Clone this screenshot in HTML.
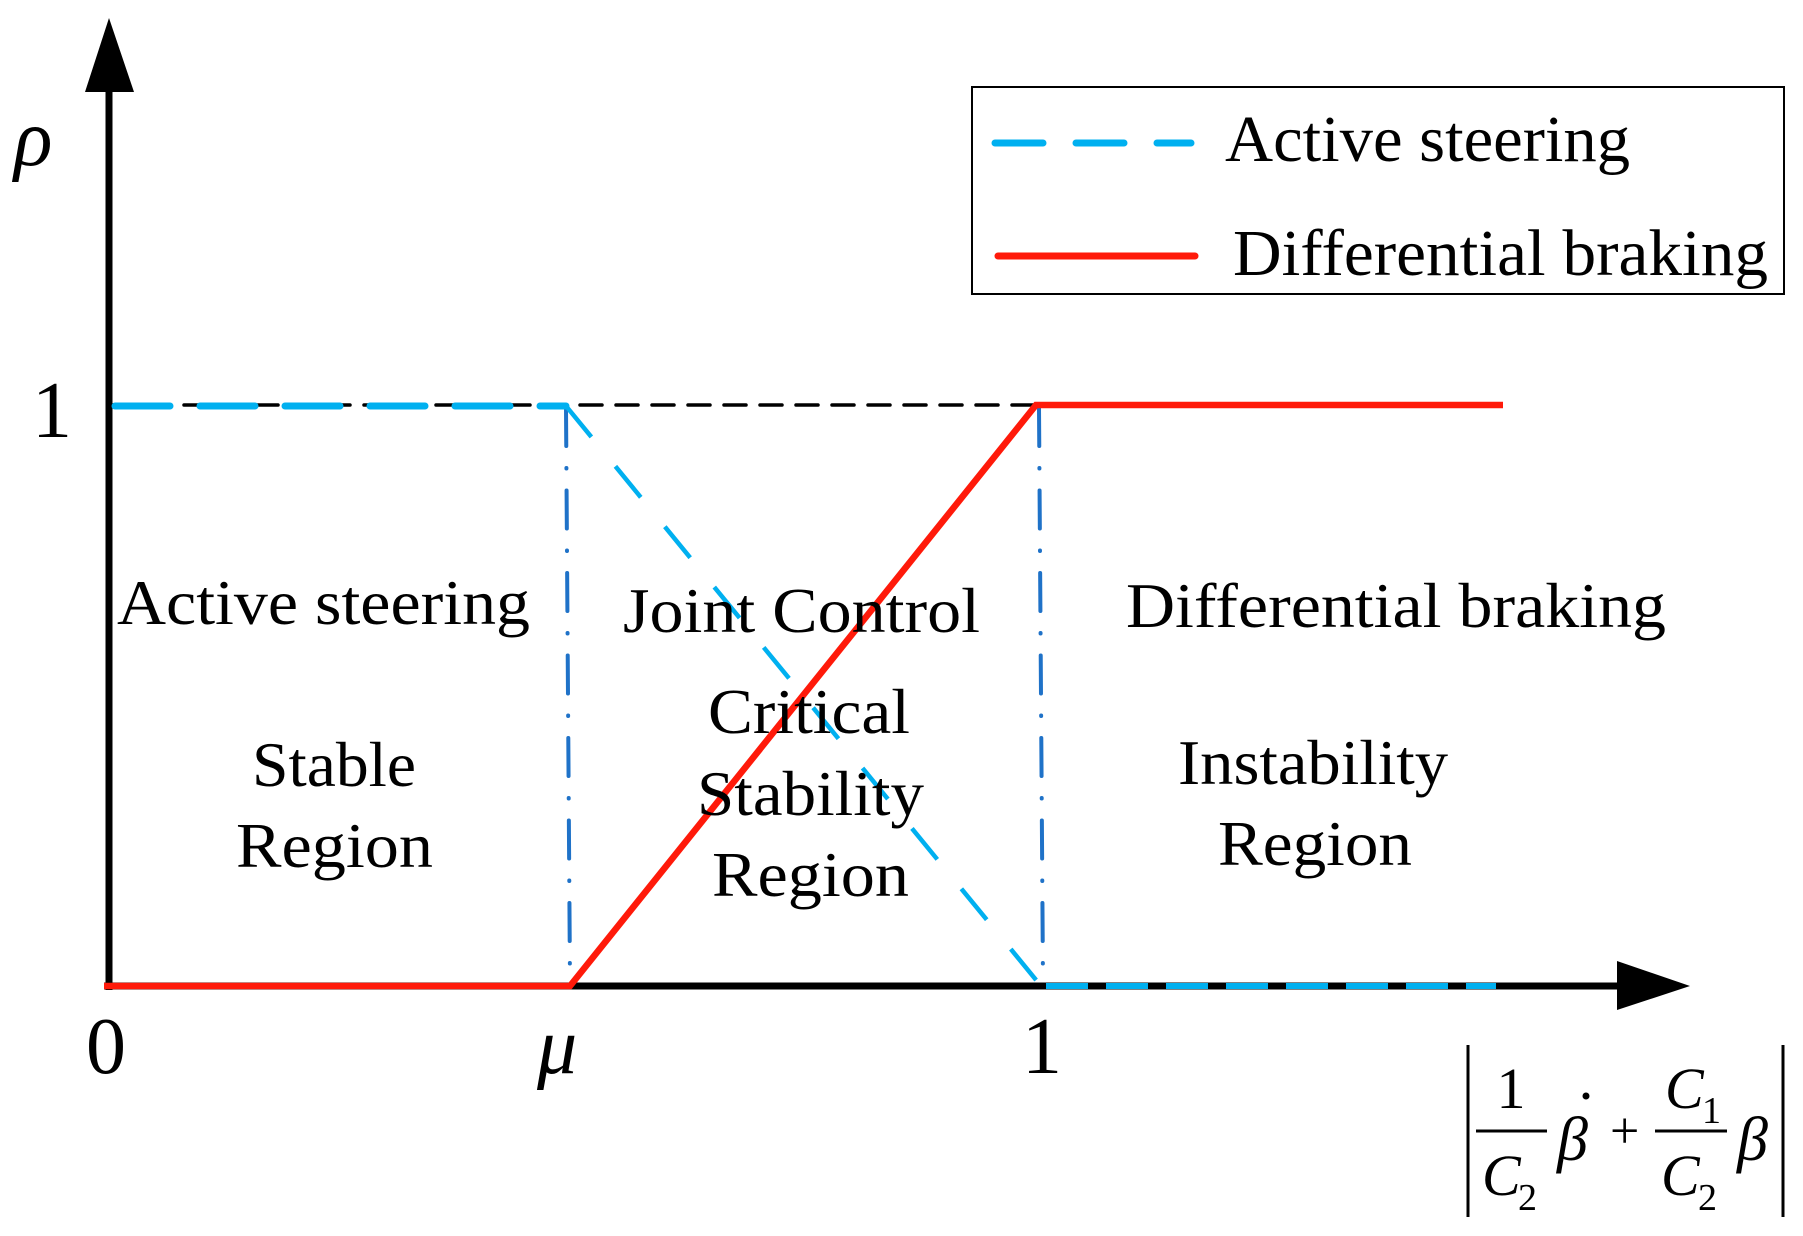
<!DOCTYPE html>
<html><head><meta charset="utf-8"><style>
html,body{margin:0;padding:0;background:#fff;}
svg{display:block;}
text{font-family:"Liberation Serif",serif;fill:#000;}
</style></head><body>
<svg width="1803" height="1236" viewBox="0 0 1803 1236" xmlns="http://www.w3.org/2000/svg">
<!-- legend -->
<rect x="972" y="87" width="812" height="207" fill="#fff" stroke="#000" stroke-width="2"/>
<line x1="995" y1="143" x2="1191" y2="143" stroke="#00b0f0" stroke-width="7" stroke-linecap="round" stroke-dasharray="48 33"/>
<line x1="998" y1="256" x2="1195" y2="256" stroke="#ff1a0a" stroke-width="7" stroke-linecap="round"/>
<text x="1225" y="161" font-size="66" textLength="405" lengthAdjust="spacingAndGlyphs">Active steering</text>
<text x="1233" y="275" font-size="66" textLength="535" lengthAdjust="spacingAndGlyphs">Differential braking</text>

<!-- black dashed top line -->
<line x1="112" y1="405" x2="1040" y2="405" stroke="#000" stroke-width="3.5" stroke-linecap="round" stroke-dasharray="22 14"/>
<!-- vertical dash-dot lines -->
<line x1="566" y1="408" x2="570" y2="984" stroke="#1f72c8" stroke-width="4" stroke-linecap="round" stroke-dasharray="38 22 0.5 22"/>
<line x1="1039" y1="408" x2="1043" y2="984" stroke="#1f72c8" stroke-width="4" stroke-linecap="round" stroke-dasharray="38 22 0.5 22"/>

<!-- axes -->
<line x1="109" y1="80" x2="109" y2="990" stroke="#000" stroke-width="7"/>
<polygon points="109,18 85,92 134,92" fill="#000"/>
<line x1="104" y1="986" x2="1630" y2="986" stroke="#000" stroke-width="7"/>
<polygon points="1690,986 1617,961 1617,1010" fill="#000"/>

<!-- active steering (blue dashed) -->
<line x1="115" y1="406" x2="566" y2="406" stroke="#00b0f0" stroke-width="7" stroke-linecap="round" stroke-dasharray="55 30"/>
<line x1="566" y1="406" x2="1041" y2="986" stroke="#00b0f0" stroke-width="4.5" stroke-dasharray="40 38"/>
<line x1="1046" y1="986" x2="1496" y2="986" stroke="#00b0f0" stroke-width="6" stroke-dasharray="42 18"/>

<!-- differential braking (red) -->
<polyline points="104,986 570,986 1036,405 1503,405" fill="none" stroke="#ff1a0a" stroke-width="6.5" stroke-linejoin="miter"/>

<!-- axis labels -->
<text x="14" y="165" font-size="80" font-style="italic">ρ</text>
<text x="32" y="437" font-size="80">1</text>
<text x="86" y="1073" font-size="80">0</text>
<text x="537" y="1073" font-size="80" font-style="italic">μ</text>
<text x="1022" y="1073" font-size="80">1</text>

<!-- region labels -->
<text x="117" y="624" font-size="64" textLength="413" lengthAdjust="spacingAndGlyphs">Active steering</text>
<text x="623" y="632" font-size="64" textLength="357" lengthAdjust="spacingAndGlyphs">Joint Control</text>
<text x="1126" y="627" font-size="64" textLength="540" lengthAdjust="spacingAndGlyphs">Differential braking</text>
<text x="252" y="786" font-size="64" textLength="164" lengthAdjust="spacingAndGlyphs">Stable</text>
<text x="236" y="867" font-size="64" textLength="197" lengthAdjust="spacingAndGlyphs">Region</text>
<text x="708" y="733" font-size="64" textLength="202" lengthAdjust="spacingAndGlyphs">Critical</text>
<text x="697" y="815" font-size="64" textLength="227" lengthAdjust="spacingAndGlyphs">Stability</text>
<text x="712" y="896" font-size="64" textLength="197" lengthAdjust="spacingAndGlyphs">Region</text>
<text x="1178" y="784" font-size="64" textLength="270" lengthAdjust="spacingAndGlyphs">Instability</text>
<text x="1218" y="865" font-size="64" textLength="194" lengthAdjust="spacingAndGlyphs">Region</text>

<!-- formula -->
<line x1="1468" y1="1045" x2="1468" y2="1217" stroke="#000" stroke-width="3"/>
<line x1="1783" y1="1045" x2="1783" y2="1217" stroke="#000" stroke-width="3"/>
<line x1="1476" y1="1131" x2="1547" y2="1131" stroke="#000" stroke-width="3"/>
<text x="1511" y="1108" font-size="58" text-anchor="middle">1</text>
<text x="1482" y="1195" font-size="58" font-style="italic">C</text>
<text x="1518" y="1210" font-size="38">2</text>
<text x="1557" y="1160" font-size="62" font-style="italic">β</text>
<circle cx="1586" cy="1096" r="3.5" fill="#000"/>
<text x="1610" y="1148" font-size="52">+</text>
<line x1="1655" y1="1131" x2="1727" y2="1131" stroke="#000" stroke-width="3"/>
<text x="1665" y="1108" font-size="58" font-style="italic">C</text>
<text x="1702" y="1123" font-size="38">1</text>
<text x="1661" y="1195" font-size="58" font-style="italic">C</text>
<text x="1698" y="1210" font-size="38">2</text>
<text x="1737" y="1160" font-size="62" font-style="italic">β</text>
</svg>
</body></html>
